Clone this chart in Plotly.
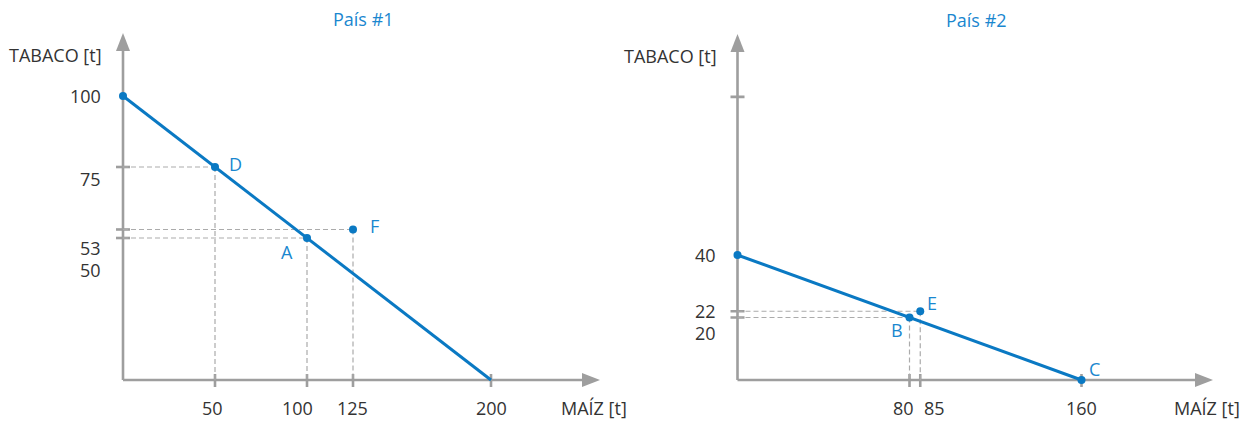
import plotly.graph_objects as go

# ---------------- data ----------------
# País #1
p1_frontier_x = [0, 200]
p1_frontier_y = [100, 0]
p1_point_names = ["", "D", "A", "F"]
p1_point_x = [0, 50, 100, 125]
p1_point_y = [100, 75, 50, 53]
p1_xticks = [50, 100, 125, 200]
p1_yticks = [75, 53, 50]
p1_ylabels = [100, 75, 53, 50]

# País #2
p2_frontier_x = [0, 160]
p2_frontier_y = [40, 0]
p2_point_names = ["", "E", "B", "C"]
p2_point_x = [0, 85, 80, 160]
p2_point_y = [40, 22, 20, 0]
p2_xticks = [80, 85, 160]
p2_yticks = [90.6, 22, 20]
p2_ylabels = [40, 22, 20]

titles = ["País #1", "País #2"]
y_title = "TABACO [t]"
x_title = "MAÍZ [t]"

# ---------------- style ----------------
W, H = 1249, 421
BLUE = "#0a79c3"
BLUE_TXT = "#1a87cf"
GRAY = "#9e9e9e"
DASH = "#ababab"
TXT = "#333333"
FONT = "Open Sans"
FS = 18

# pixel geometry (origin px, px per unit)
L = dict(x0=123, y0=380, sx=1.84, sy=2.84, xtip=600, ytip=33)
R = dict(x0=737.5, y0=380, sx=2.15, sy=3.125, xtip=1213, ytip=34)

fig = go.Figure()

def add_panel(g, xr, yr, fx, fy, names, px, py, xticks, yticks, ylabels,
              ylab_shift, xlab_shift, name_shift):
    xa = "x" if xr == "x" else "x2"
    ya = "y" if yr == "y" else "y2"
    xtip = (g["xtip"] - g["x0"]) / g["sx"]
    ytip = (g["y0"] - g["ytip"]) / g["sy"]
    ALEN = 18
    # axes lines
    fig.add_shape(type="line", xref=xr, yref=yr, x0=0, y0=0, x1=xtip - ALEN / g["sx"], y1=0,
                  line=dict(color=GRAY, width=2.6), layer="below")
    fig.add_shape(type="line", xref=xr, yref=yr, x0=0, y0=0, x1=0, y1=ytip - ALEN / g["sy"],
                  line=dict(color=GRAY, width=2.6), layer="below")
    # arrowheads
    fig.add_shape(type="path", xref=xr, yref=yr, xsizemode="pixel", ysizemode="pixel",
                  xanchor=xtip, yanchor=0, path=f"M 0,0 L -{ALEN},7 L -{ALEN},-7 Z",
                  fillcolor=GRAY, line=dict(width=0), layer="below")
    fig.add_shape(type="path", xref=xr, yref=yr, xsizemode="pixel", ysizemode="pixel",
                  xanchor=0, yanchor=ytip, path=f"M 0,0 L -7,-{ALEN} L 7,-{ALEN} Z",
                  fillcolor=GRAY, line=dict(width=0), layer="below")
    # ticks
    for t in xticks:
        fig.add_shape(type="line", xref=xr, yref=yr, ysizemode="pixel", yanchor=0,
                      x0=t, x1=t, y0=-7, y1=6, line=dict(color=GRAY, width=2.6), layer="below")
    for t in yticks:
        fig.add_shape(type="line", xref=xr, yref=yr, xsizemode="pixel", xanchor=0,
                      y0=t, y1=t, x0=-7, x1=7, line=dict(color=GRAY, width=2.6), layer="below")
    # dashed guides
    for n, x, y in zip(names, px, py):
        if x == 0 or y == 0:
            continue
        fig.add_shape(type="line", xref=xr, yref=yr, x0=0, y0=y, x1=x, y1=y,
                      line=dict(color=DASH, width=1.2, dash="5px,3px"), layer="below")
        fig.add_shape(type="line", xref=xr, yref=yr, x0=x, y0=y, x1=x, y1=0,
                      line=dict(color=DASH, width=1.2, dash="5px,3px"), layer="below")
    # frontier line
    fig.add_trace(go.Scatter(x=fx, y=fy, mode="lines", xaxis=xa, yaxis=ya,
                             line=dict(color=BLUE, width=3), hoverinfo="skip"))
    # points
    fig.add_trace(go.Scatter(x=px, y=py, mode="markers", xaxis=xa, yaxis=ya,
                             marker=dict(color=BLUE, size=8), hoverinfo="skip"))
    # point names
    for n, x, y in zip(names, px, py):
        if not n:
            continue
        dx, dy = name_shift[n]
        fig.add_annotation(xref=xr, yref=yr, x=x, y=y, text=n, showarrow=False,
                           xanchor="center", yanchor="middle",
                           xshift=dx, yshift=dy, font=dict(family=FONT, size=FS, color=BLUE_TXT))
    # y labels
    for v, s in zip(ylabels, ylab_shift):
        fig.add_annotation(xref=xr, yref=yr, x=0, y=v, text=str(v), showarrow=False,
                           xanchor="right", yanchor="middle", xshift=-20, yshift=s,
                           font=dict(family=FONT, size=FS, color=TXT))
    # x labels
    for v, s in zip(xticks, xlab_shift):
        fig.add_annotation(xref=xr, yref=yr, x=v, y=0, text=str(v), showarrow=False,
                           xanchor="center", yanchor="middle",
                           xshift=s, yshift=-28, font=dict(family=FONT, size=FS, color=TXT))


add_panel(L, "x", "y", p1_frontier_x, p1_frontier_y, p1_point_names, p1_point_x, p1_point_y,
          p1_xticks, p1_yticks, p1_ylabels, [0, -12, -19, -32], [-3, -10, -1, 0],
          {"D": (20, 3), "A": (-20, -14), "F": (21, 3)})
add_panel(R, "x2", "y2", p2_frontier_x, p2_frontier_y, p2_point_names, p2_point_x, p2_point_y,
          p2_xticks, p2_yticks, p2_ylabels, [0, 0, -15], [-6, 14, 0],
          {"E": (12, 8), "B": (-13, -12), "C": (13, 11)})

# titles and axis names (paper coords from pixel positions)
def pxp(x, y):
    return x / W, 1 - y / H

for t, (cx, cy) in zip(titles, [(363, 19), (977, 20)]):
    x, y = pxp(cx, cy)
    fig.add_annotation(xref="paper", yref="paper", x=x, y=y, text=t, showarrow=False,
                       xanchor="center", yanchor="middle",
                       font=dict(family=FONT, size=FS, color=BLUE_TXT))
for (rx, cy) in [(104, 55), (719, 56)]:
    x, y = pxp(rx, cy)
    fig.add_annotation(xref="paper", yref="paper", x=x, y=y, text=y_title, showarrow=False,
                       xanchor="right", yanchor="middle",
                       font=dict(family=FONT, size=FS, color=TXT))
for (cx, cy) in [(594, 408), (1207, 408)]:
    x, y = pxp(cx, cy)
    fig.add_annotation(xref="paper", yref="paper", x=x, y=y, text=x_title, showarrow=False,
                       xanchor="center", yanchor="middle",
                       font=dict(family=FONT, size=FS, color=TXT))

ax_common = dict(visible=False, showgrid=False, zeroline=False, fixedrange=True)
fig.update_layout(
    width=W, height=H, autosize=False,
    margin=dict(l=0, r=0, t=0, b=0),
    paper_bgcolor="white", plot_bgcolor="white", showlegend=False,
    xaxis=dict(domain=[0, 0.5], range=[(0 - L["x0"]) / L["sx"], (W * 0.5 - L["x0"]) / L["sx"]],
               anchor="y", **ax_common),
    yaxis=dict(domain=[0, 1], range=[(L["y0"] - H) / L["sy"], L["y0"] / L["sy"]],
               anchor="x", **ax_common),
    xaxis2=dict(domain=[0.5, 1], range=[(W * 0.5 - R["x0"]) / R["sx"], (W - R["x0"]) / R["sx"]],
                anchor="y2", **ax_common),
    yaxis2=dict(domain=[0, 1], range=[(R["y0"] - H) / R["sy"], R["y0"] / R["sy"]],
                anchor="x2", **ax_common),
)

fig.write_html("out.html", config={"displayModeBar": False},
               post_script="document.body.style.margin='0';document.body.style.overflow='hidden';")
